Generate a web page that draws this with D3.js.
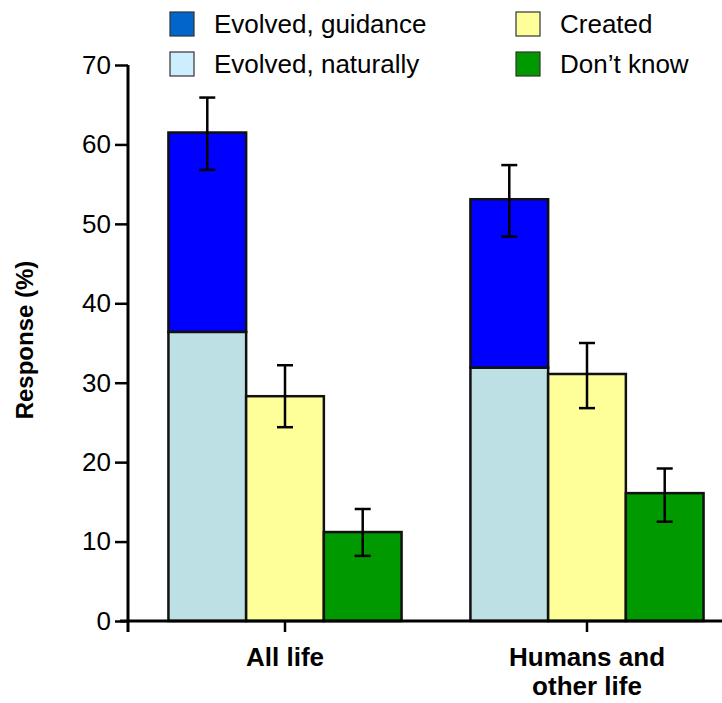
<!DOCTYPE html>
<html lang="en">
<head>
<meta charset="UTF-8">
<title>Response</title>
<script src="https://d3js.org/d3.v7.min.js"></script>
<style>
  body { margin: 0; background: #fff; }
  text { font-family: "Liberation Sans", Arial, sans-serif; fill: #000; }
</style>
</head>
<body>
<svg id="chart" width="722" height="703"></svg>
<script>
// data
var categories = ["All life", "Humans and other life"];
var categoryLines = [["All life"], ["Humans and", "other life"]];
var naturally = [36.4, 31.9];
var guidance = [25.1, 21.2];      // stacked on top of naturally
var totalLow = [56.8, 48.4];
var totalHigh = [65.9, 57.4];
var created = [28.3, 31.1];
var createdLow = [24.4, 26.8];
var createdHigh = [32.2, 35.0];
var dontKnow = [11.2, 16.1];
var dontKnowLow = [8.2, 12.5];
var dontKnowHigh = [14.1, 19.2];
var yTicks = [0, 10, 20, 30, 40, 50, 60, 70];
var legendLabels = ["Evolved, guidance", "Evolved, naturally", "Created", "Don\u2019t know"];
var legendColors = ["#0066cc", "#cceeff", "#ffff99", "#009900"];

var barColors = { guidance: "#0000ff", naturally: "#bce0e3", created: "#ffff99", dontKnow: "#009900" };

var svg = d3.select("#chart");

var y = d3.scaleLinear().domain([0, 70]).range([621, 65]);

var x0 = d3.scaleBand()
    .domain(categories)
    .range([134, 738])
    .paddingInner(0.228)
    .paddingOuter(0.114);

var x1 = d3.scaleBand()
    .domain(["naturally", "created", "dontKnow"])
    .range([0, x0.bandwidth()]);

// rows of bars built from the arrays
var rows = categories.map(function (c, i) {
    return [
        { cat: c, slot: "naturally", y0: 0, y1: naturally[i], color: barColors.naturally },
        { cat: c, slot: "naturally", y0: naturally[i], y1: naturally[i] + guidance[i], color: barColors.guidance },
        { cat: c, slot: "created", y0: 0, y1: created[i], color: barColors.created },
        { cat: c, slot: "dontKnow", y0: 0, y1: dontKnow[i], color: barColors.dontKnow }
    ];
});
var bars = [].concat.apply([], rows);

var errs = [];
categories.forEach(function (c, i) {
    errs.push({ cat: c, slot: "naturally", lo: totalLow[i], hi: totalHigh[i] });
    errs.push({ cat: c, slot: "created", lo: createdLow[i], hi: createdHigh[i] });
    errs.push({ cat: c, slot: "dontKnow", lo: dontKnowLow[i], hi: dontKnowHigh[i] });
});

// bars
svg.append("g").selectAll("rect")
    .data(bars)
    .join("rect")
    .attr("x", function (d) { return x0(d.cat) + x1(d.slot); })
    .attr("width", x1.bandwidth())
    .attr("y", function (d) { return y(d.y1); })
    .attr("height", function (d) { return y(d.y0) - y(d.y1); })
    .attr("fill", function (d) { return d.color; })
    .attr("stroke", "#111")
    .attr("stroke-width", 2.5);

// error bars
var eb = svg.append("g").attr("stroke", "#000").attr("stroke-width", 2.5);
errs.forEach(function (d) {
    var cx = x0(d.cat) + x1(d.slot) + x1.bandwidth() / 2;
    eb.append("line").attr("x1", cx).attr("x2", cx).attr("y1", y(d.lo)).attr("y2", y(d.hi));
    eb.append("line").attr("x1", cx - 8).attr("x2", cx + 8).attr("y1", y(d.lo)).attr("y2", y(d.lo));
    eb.append("line").attr("x1", cx - 8).attr("x2", cx + 8).attr("y1", y(d.hi)).attr("y2", y(d.hi));
});

// y axis
var yAxis = svg.append("g")
    .attr("transform", "translate(128,0)")
    .call(d3.axisLeft(y).tickValues(yTicks).tickSize(13).tickPadding(4));
yAxis.select(".domain").remove();
yAxis.selectAll(".tick line").attr("stroke", "#000").attr("stroke-width", 2.5);
yAxis.selectAll(".tick text").attr("font-size", 26).attr("font-family", "Liberation Sans, Arial, sans-serif");
yAxis.append("line")
    .attr("x1", 0).attr("x2", 0).attr("y1", y(70)).attr("y2", y(0) + 11)
    .attr("stroke", "#000").attr("stroke-width", 3);

// x axis
var xAxis = svg.append("g")
    .attr("transform", "translate(0,621)")
    .call(d3.axisBottom(x0).tickSize(11).tickFormat(""));
xAxis.select(".domain").remove();
xAxis.selectAll(".tick line").attr("stroke", "#000").attr("stroke-width", 2.5);
xAxis.append("line")
    .attr("x1", 120).attr("x2", 722).attr("y1", 0).attr("y2", 0)
    .attr("stroke", "#000").attr("stroke-width", 3);

// category labels
categories.forEach(function (c, i) {
    var t = svg.append("text")
        .attr("x", x0(c) + x0.bandwidth() / 2)
        .attr("y", 666)
        .attr("text-anchor", "middle")
        .attr("font-size", 26)
        .attr("font-weight", "bold");
    categoryLines[i].forEach(function (line, j) {
        t.append("tspan")
            .attr("x", x0(c) + x0.bandwidth() / 2)
            .attr("dy", j === 0 ? 0 : 29)
            .text(line);
    });
});

// y label
svg.append("text")
    .attr("transform", "translate(33,340) rotate(-90)")
    .attr("text-anchor", "middle")
    .attr("font-size", 24)
    .attr("font-weight", "bold")
    .text("Response (%)");

// legend
var legend = svg.append("g");
legendLabels.forEach(function (label, i) {
    var col = Math.floor(i / 2), row = i % 2;
    var g = legend.append("g").attr("transform", "translate(" + (170 + col * 346) + "," + (12 + row * 40) + ")");
    g.append("rect")
        .attr("width", 24).attr("height", 24)
        .attr("fill", legendColors[i])
        .attr("stroke", "#333").attr("stroke-width", 1.2);
    g.append("text")
        .attr("x", 44).attr("y", 21)
        .attr("font-size", 26)
        .text(label);
});
</script>
</body>
</html>
